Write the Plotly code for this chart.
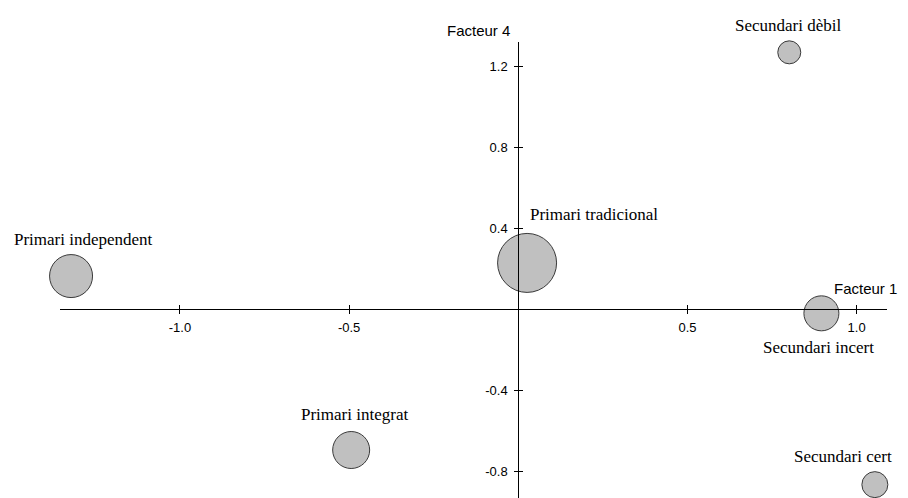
import plotly.graph_objects as go

# ---- data ----
categories = ["Primari independent", "Primari tradicional", "Primari integrat",
              "Secundari dèbil", "Secundari incert", "Secundari cert"]
facteur1 = [-1.322, 0.026, -0.494, 0.801, 0.896, 1.054]
facteur4 = [0.164, 0.229, -0.695, 1.269, -0.020, -0.866]
weights = [43, 59, 37, 23, 35, 26]

x_ticks = [-1.0, -0.5, 0.5, 1.0]
x_tick_labels = ["-1.0", "-0.5", "0.5", "1.0"]
y_ticks = [-0.8, -0.4, 0.4, 0.8, 1.2]
y_tick_labels = ["-0.8", "-0.4", "0.4", "0.8", "1.2"]

# ---- styling / layout ----
label_offsets = [(12, 37), (67, 48), (3, 36), (-1, 27), (-3, -34), (-32, 28)]
xr = [-1.3547, 1.0899]
yr = [-0.932, 1.320]
xpos = (0 - yr[0]) / (yr[1] - yr[0])
ypos = (0 - xr[0]) / (xr[1] - xr[0])

sans = "Liberation Sans, Arial, sans-serif"
serif = "Liberation Serif, Times New Roman, serif"

fig = go.Figure()
fig.add_trace(go.Scatter(
    x=facteur1, y=facteur4, mode="markers",
    marker=dict(size=weights, sizemode="diameter", color="#c0c0c0",
                line=dict(color="#3a3a3a", width=1), opacity=1),
    cliponaxis=False, hoverinfo="text", text=categories, showlegend=False))

# invisible trace on the overlay axes so they render
fig.add_trace(go.Scatter(x=[None], y=[None], xaxis="x2", yaxis="y2",
                         showlegend=False, hoverinfo="skip"))

annotations = []
for name, x, y, (dx, dy) in zip(categories, facteur1, facteur4, label_offsets):
    annotations.append(dict(x=x, y=y, xref="x", yref="y", text=name, showarrow=False,
                            xanchor="center", xshift=dx, yshift=dy,
                            font=dict(family=serif, size=17, color="#000000")))
annotations.append(dict(x=0, y=1, xref="x", yref="paper", text="Facteur 4", showarrow=False,
                        xanchor="center", xshift=-40, yshift=22,
                        font=dict(family=sans, size=15, color="#000000")))
annotations.append(dict(x=1, y=0, xref="paper", yref="y", text="Facteur 1", showarrow=False,
                        xanchor="right", xshift=12, yshift=21,
                        font=dict(family=sans, size=15, color="#000000")))

axis_common = dict(showgrid=False, zeroline=False, showline=True, linecolor="#000000",
                   linewidth=1, tickcolor="#000000", tickwidth=1, ticklen=4,
                   tickfont=dict(family=sans, size=13, color="#000000"))

fig.update_layout(
    width=900, height=490, autosize=False,
    margin=dict(l=52, r=21, t=34, b=0),
    plot_bgcolor="white", paper_bgcolor="white",
    xaxis=dict(range=xr, anchor="free", position=xpos, tickvals=x_ticks,
               ticktext=x_tick_labels, ticks="outside", ticklabelstandoff=2, **axis_common),
    yaxis=dict(range=yr, anchor="free", position=ypos, tickvals=y_ticks,
               ticktext=y_tick_labels, ticks="outside", ticklabelstandoff=4, **axis_common),
    xaxis2=dict(range=xr, overlaying="x", anchor="free", position=xpos, tickvals=x_ticks,
                ticks="inside", showticklabels=False, **axis_common),
    yaxis2=dict(range=yr, overlaying="y", anchor="free", position=ypos, tickvals=y_ticks,
                ticks="inside", showticklabels=False, **axis_common),
    annotations=annotations,
)

fig.write_html("out.html")
